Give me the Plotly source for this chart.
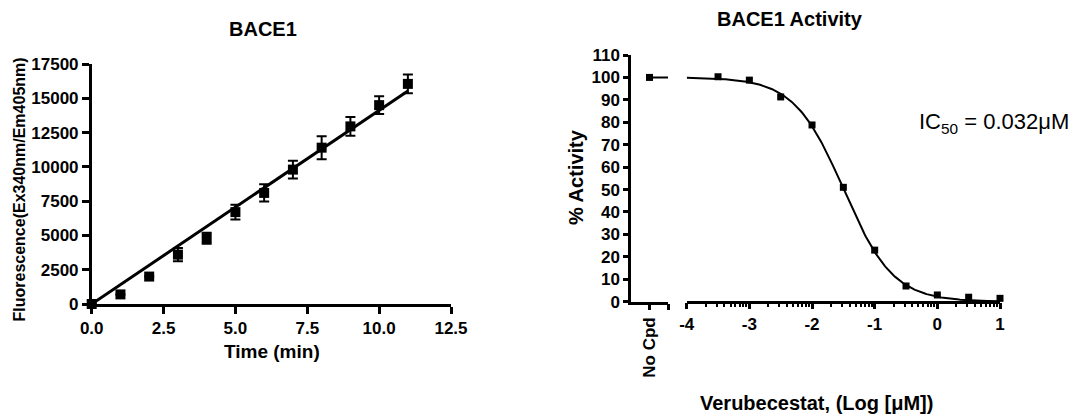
import numpy as np
import plotly.graph_objects as go

# ---------------- data ----------------
time_min = [0, 1, 2, 3, 4, 5, 6, 7, 8, 9, 10, 11]
fluor = [0, 700, 2000, 3600, 4800, 6700, 8100, 9800, 11400, 12950, 14500, 16050]
fluor_err = [0, 0, 0, 490, 400, 530, 630, 650, 840, 680, 640, 690]

log_conc = [-3.5, -3.0, -2.5, -2.0, -1.5, -1.0, -0.5, 0.0, 0.5, 1.0]
activity = [100.3, 98.8, 91.3, 78.8, 51.0, 23.0, 7.0, 3.0, 2.0, 1.5]
no_cpd_label = ["No Cpd"]
no_cpd_activity = [100.0]

ic50_uM = 0.032
hill = 1.1
top = 100.0
bottom = 0.0

left_yticks = [0, 2500, 5000, 7500, 10000, 12500, 15000, 17500]
left_xticks = [0.0, 2.5, 5.0, 7.5, 10.0, 12.5]
right_yticks = list(range(0, 111, 10))
right_xticks = [-4, -3, -2, -1, 0, 1]

# ---------------- derived fits ----------------
t = np.array(time_min, dtype=float)
f = np.array(fluor, dtype=float)
slope = float((t * f).sum() / (t * t).sum())
fit_t = np.array([0.0, 11.0])
fit_f = slope * fit_t

curve_x = np.linspace(-4, 1, 300)
log_ic50 = np.log10(ic50_uM)
curve_y = bottom + (top - bottom) / (1 + 10 ** ((curve_x - log_ic50) * hill))

minor_vals = [d + np.log10(k) for d in range(-4, 1) for k in range(2, 10)]

# ---------------- layout helpers ----------------
W, H = 1085, 415
OFF = 8  # page body margin offset
def px(x):
    return (x - OFF) / W
def py(y):
    return (H - (y - OFF)) / H

FONT = "Liberation Sans, Arial, sans-serif"
tickfont = dict(family=FONT, size=17, color="black", weight="bold")
black = "black"

fig = go.Figure()

# left panel
fig.add_trace(go.Scatter(x=fit_t, y=fit_f, mode="lines",
                         line=dict(color=black, width=3),
                         xaxis="x", yaxis="y", showlegend=False, hoverinfo="skip"))
fig.add_trace(go.Scatter(x=time_min, y=fluor, mode="markers",
                         marker=dict(symbol="square", size=10, color=black),
                         error_y=dict(type="data", array=fluor_err, color=black,
                                      thickness=2, width=5),
                         cliponaxis=False, xaxis="x", yaxis="y", showlegend=False))

# right panel
fig.add_trace(go.Scatter(x=curve_x, y=curve_y, mode="lines",
                         line=dict(color=black, width=2),
                         xaxis="x3", yaxis="y2", showlegend=False, hoverinfo="skip"))
fig.add_trace(go.Scatter(x=log_conc, y=activity, mode="markers",
                         marker=dict(symbol="square", size=7, color=black),
                         cliponaxis=False, xaxis="x3", yaxis="y2", showlegend=False))
fig.add_trace(go.Scatter(x=[0, 1], y=[no_cpd_activity[0]] * 2, mode="lines",
                         line=dict(color=black, width=2),
                         cliponaxis=False, xaxis="x2", yaxis="y2", showlegend=False))
fig.add_trace(go.Scatter(x=[0], y=no_cpd_activity, mode="markers",
                         marker=dict(symbol="square", size=7, color=black),
                         cliponaxis=False, xaxis="x2", yaxis="y2", showlegend=False))

axis_common = dict(showgrid=False, zeroline=False, showline=True, linecolor=black,
                   linewidth=2.5, ticks="outside", tickcolor=black, tickwidth=2.5,
                   tickfont=tickfont, fixedrange=True, automargin=False)

fig.update_layout(
    template="none",
    width=W, height=H, autosize=False,
    margin=dict(l=0, r=0, t=0, b=0, pad=0, autoexpand=False),
    paper_bgcolor="white", plot_bgcolor="rgba(0,0,0,0)",
    showlegend=False,
    xaxis=dict(domain=[px(91.7), px(451)], range=[0, 12.5], anchor="y",
               tickvals=left_xticks, ticktext=[f"{v:.1f}" for v in left_xticks],
               ticklen=7, **axis_common),
    yaxis=dict(domain=[py(304), py(64)], range=[0, 17500], anchor="x",
               tickvals=left_yticks, ticktext=[str(v) for v in left_yticks],
               ticklen=7, **axis_common),
    xaxis2=dict(domain=[px(631), px(668)], range=[-1, 1], anchor="y2",
                tickvals=[0], ticktext=no_cpd_label, tickangle=-90,
                ticklen=6,
                minor=dict(tickvals=[1], ticks="outside", ticklen=6,
                           tickwidth=2.5, tickcolor=black),
                **axis_common),
    xaxis3=dict(domain=[px(686.7), px(1000)], range=[-4, 1], anchor="free",
                position=py(301.7),
                tickvals=right_xticks, ticktext=[str(v) for v in right_xticks],
                ticklen=6,
                minor=dict(tickvals=minor_vals, ticks="outside", ticklen=4,
                           tickwidth=2, tickcolor=black),
                **axis_common),
    yaxis2=dict(domain=[py(301.7), py(55)], range=[0, 110], anchor="x2",
                tickvals=right_yticks, ticktext=[str(v) for v in right_yticks],
                ticklen=5, **axis_common),
)

ann = [
    dict(text="BACE1", x=px(262.5), y=py(29), size=20, bold=True),
    dict(text="BACE1 Activity", x=px(790), y=py(19), size=20, bold=True),
    dict(text="Time (min)", x=px(272), y=py(351), size=19, bold=True),
    dict(text="Verubecestat, (Log [μM])", x=px(816), y=py(403), size=20, bold=True),
    dict(text="Fluorescence(Ex340nm/Em405nm)", x=px(18.5), y=py(190), size=16,
         bold=True, angle=-90),
    dict(text="% Activity", x=px(576), y=py(177), size=20, bold=True, angle=-90),
]
for a in ann:
    fig.add_annotation(text=a["text"], x=a["x"], y=a["y"], xref="paper", yref="paper",
                       xanchor="center", yanchor="middle", showarrow=False,
                       textangle=a.get("angle", 0),
                       font=dict(family=FONT, size=a["size"], color=black,
                                 weight="bold" if a["bold"] else "normal"))

fig.add_annotation(text=f"IC<sub>50</sub> = {ic50_uM}μM", x=px(917), y=py(123),
                   xref="paper", yref="paper", xanchor="left", yanchor="middle",
                   showarrow=False,
                   font=dict(family=FONT, size=22, color=black))

fig.write_html("out.html")
